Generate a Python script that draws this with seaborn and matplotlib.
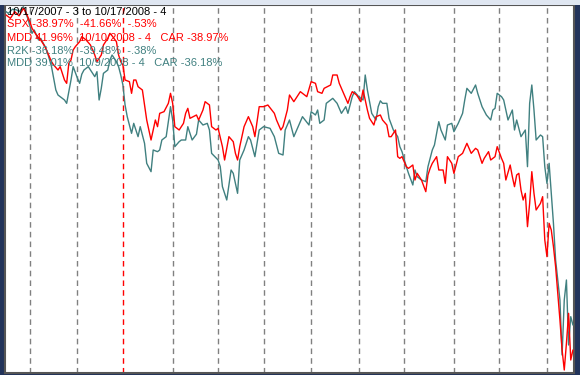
import numpy as np
import pandas as pd
import matplotlib
matplotlib.use('Agg')
import matplotlib.pyplot as plt
import seaborn as sns

# trading days from 10/17/2007 to 10/17/2008
dates = pd.bdate_range('2007-10-17', '2008-10-17')

# percent change (day index, value)
spx_day = [0, 2, 4, 6, 8, 9, 11, 12, 14, 16, 18, 19, 21, 22, 24, 25, 27, 28, 29, 30,
           31, 32, 34, 35, 37, 39, 41, 42, 44, 45, 47, 48, 49, 51, 52, 53, 54, 55, 57, 58,
           59, 60, 61, 63, 65, 66, 67, 69, 70, 71, 73, 75, 76, 77, 78, 80, 82, 83, 84, 85,
           88, 89, 91, 92, 94, 95, 97, 98, 100, 101, 103, 105, 106, 107, 108, 110, 112, 114, 115, 117,
           119, 121, 124, 125, 127, 128, 130, 131, 133, 136, 139, 141, 143, 144, 146, 147, 150, 151, 153, 154,
           156, 158, 159, 160, 162, 164, 165, 167, 168, 170, 171, 173, 174, 176, 177, 178, 180, 181, 182, 183,
           185, 186, 188, 189, 190, 192, 194, 195, 196, 197, 199, 200, 202, 203, 204, 206, 207, 209, 211, 212,
           213, 215, 217, 218, 220, 221, 223, 224, 226, 227, 229, 230, 231, 233, 234, 235, 236, 237, 238, 239,
           240, 241, 242, 243, 244, 245, 247, 248, 249, 250, 251, 252, 253, 254, 255, 256, 257, 258, 259, 260,
           261, 262]
spx_pct = [-0.6, -1.0, -0.2, -0.7, 0.2, -0.2, -1.4, -2.2, -3.0, -3.6, -4.4, -5.0, -6.2, -6.6, -7.2, -6.8, -8.4, -8.8, -6.4, -6.0,
           -4.8, -4.4, -3.8, -3.2, -3.6, -4.2, -5.4, -6.2, -5.4, -4.2, -3.4, -2.8, -3.1, -3.8, -5.4, -6.2, -6.6, -8.4, -8.6, -10.0,
           -8.4, -8.4, -9.2, -9.6, -13.2, -14.4, -15.6, -13.2, -14.0, -12.4, -12.2, -11.2, -10.0, -11.2, -14.0, -14.4, -13.6, -12.4, -11.8, -13.0,
           -12.6, -13.2, -12.0, -11.0, -11.4, -14.0, -14.4, -14.2, -16.4, -18.0, -15.2, -15.8, -17.2, -18.0, -16.4, -14.0, -12.8, -14.0, -15.2, -11.6,
           -11.6, -11.4, -12.4, -13.2, -14.4, -14.0, -12.0, -10.2, -11.0, -9.8, -10.4, -8.6, -8.8, -9.8, -10.0, -9.4, -9.0, -7.8, -7.8, -8.8,
           -10.0, -11.2, -10.4, -9.8, -10.2, -11.0, -9.6, -12.0, -13.0, -13.8, -12.8, -12.6, -13.2, -13.8, -15.2, -15.2, -14.4, -17.6, -17.8, -17.6,
           -18.8, -19.0, -18.6, -20.4, -19.6, -20.4, -21.8, -19.8, -19.0, -18.4, -17.6, -19.2, -19.2, -20.8, -17.6, -18.4, -19.6, -17.6, -17.2, -16.6,
           -16.0, -17.2, -16.6, -16.8, -18.4, -17.8, -17.0, -18.0, -17.6, -16.4, -17.8, -18.4, -20.4, -18.6, -20.0, -21.2, -19.8, -19.6, -21.6, -22.8,
           -22.0, -26.0, -23.2, -19.4, -22.0, -24.0, -23.2, -22.4, -27.6, -29.6, -25.6, -26.4, -28.4, -30.8, -34.0, -37.2, -40.8, -43.2, -40.0, -36.4,
           -42.0, -40.8]

r2k_day = [0, 1, 3, 5, 6, 8, 10, 12, 13, 15, 16, 18, 19, 21, 23, 24, 25, 27, 28, 29,
           30, 31, 33, 34, 35, 36, 38, 41, 42, 43, 44, 45, 47, 48, 49, 51, 52, 53, 54, 55,
           56, 58, 59, 61, 62, 64, 65, 67, 68, 70, 71, 72, 74, 76, 77, 78, 80, 81, 83, 84,
           86, 88, 89, 91, 93, 94, 95, 98, 99, 100, 102, 104, 105, 107, 108, 110, 112, 113, 115, 117,
           119, 122, 124, 126, 128, 129, 131, 133, 135, 137, 140, 141, 143, 144, 145, 147, 148, 151, 153, 155,
           157, 158, 160, 161, 163, 165, 166, 167, 168, 169, 171, 172, 173, 174, 176, 177, 179, 181, 182, 183,
           185, 186, 188, 189, 190, 192, 194, 195, 197, 198, 200, 201, 203, 204, 206, 207, 209, 211, 212, 213,
           215, 217, 218, 220, 222, 224, 225, 226, 227, 229, 230, 232, 234, 235, 236, 238, 240, 241, 242, 243,
           244, 245, 247, 248, 249, 250, 251, 252, 253, 254, 256, 257, 258, 259, 260, 261, 262]
r2k_pct = [-0.2, -0.4, 0.1, 0.0, -0.2, 0.4, -1.0, -2.8, -2.4, -3.6, -3.4, -4.4, -5.0, -6.8, -9.6, -10.2, -10.4, -10.8, -11.2, -9.8,
           -8.4, -6.8, -8.2, -8.8, -7.7, -7.2, -6.8, -8.0, -7.4, -10.8, -9.4, -7.6, -7.2, -6.0, -5.4, -6.2, -6.8, -7.8, -9.0, -11.4,
           -12.8, -14.8, -13.6, -15.2, -14.0, -16.0, -18.4, -19.4, -16.8, -17.0, -16.8, -15.6, -15.2, -11.6, -13.2, -16.4, -15.8, -15.6, -15.6, -14.0,
           -15.6, -14.9, -13.2, -13.8, -13.6, -14.4, -17.2, -18.0, -18.8, -21.2, -22.8, -19.2, -19.6, -22.0, -18.0, -16.8, -15.2, -15.6, -17.6, -14.4,
           -14.0, -14.2, -15.2, -17.2, -17.4, -14.4, -13.2, -15.2, -14.0, -12.8, -13.8, -12.2, -12.6, -12.0, -13.6, -13.2, -11.2, -10.6, -11.2, -12.4,
           -11.6, -12.4, -10.4, -9.8, -10.4, -10.8, -7.8, -9.6, -11.0, -12.4, -13.2, -11.6, -10.9, -11.2, -11.2, -13.0, -14.4, -15.2, -16.4, -17.0,
           -18.8, -19.6, -21.0, -19.2, -20.0, -20.4, -20.6, -18.8, -16.8, -16.2, -13.4, -14.4, -15.6, -13.8, -13.6, -14.6, -13.6, -12.4, -10.8, -9.4,
           -10.0, -9.0, -10.0, -11.6, -12.6, -13.2, -12.0, -11.8, -10.0, -10.4, -10.8, -13.2, -12.0, -14.4, -13.2, -15.2, -14.4, -18.8, -11.2, -9.0,
           -12.0, -15.6, -15.0, -15.2, -18.8, -20.8, -18.4, -22.0, -25.6, -30.0, -34.8, -41.4, -34.8, -32.4, -40.2, -36.8, -37.8]

header = '10/17/2007 - 3 to 10/17/2008 - 4'
spx_lines = ['SPX -38.97%  -41.66%  -.53%', 'MDD 41.96%  10/10/2008 - 4   CAR -38.97%']
r2k_lines = ['R2K -36.18%  -39.48%  -.38%', 'MDD 39.01%  10/9/2008 - 4   CAR -36.18%']

red = '#ff0000'
teal = '#408080'

df = pd.concat([
    pd.DataFrame({'day': spx_day, 'pct': spx_pct, 'index': 'SPX'}),
    pd.DataFrame({'day': r2k_day, 'pct': r2k_pct, 'index': 'R2K'}),
])

sns.set_style('white')
plt.rcParams['font.family'] = ['Liberation Sans', 'DejaVu Sans']

fig = plt.figure(figsize=(5.8, 3.75), dpi=100, facecolor='#22335a')
# light title strip at the top of the window
fig.patches.append(plt.Rectangle((0, 1 - 4.5 / 375), 1, 4.5 / 375, transform=fig.transFigure,
                                 facecolor='#dfe6f1', edgecolor='none'))
ax = fig.add_axes([5 / 580, 2 / 375, 569 / 580, 368 / 375])
ax.set_facecolor('white')

# month separators, red one at the new year
month_start = np.where(dates.month[1:] != dates.month[:-1])[0] + 1
for i in month_start:
    c = red if dates[i].month == 1 else '#808080'
    ax.axvline(i, color=c, lw=1.0, linestyle=(0, (4, 3)), zorder=1)

sns.lineplot(data=df, x='day', y='pct', hue='index', hue_order=['R2K', 'SPX'],
             palette={'SPX': red, 'R2K': teal}, estimator=None, lw=1.0,
             legend=False, ax=ax, zorder=3)

ax.set_xlim(-0.5, len(dates) - 0.5)
ax.set_ylim(-43.56, 0.6)
ax.set_xticks([])
ax.set_yticks([])
ax.set_xlabel('')
ax.set_ylabel('')
for s in ax.spines.values():
    s.set_color('#555555')
    s.set_linewidth(1.5)

tx = 7 / 580
ys = [11.7, 24.3, 37.7, 50.7, 63.3]
texts = [header] + spx_lines + r2k_lines
colors = ['black', red, red, teal, teal]
for t, yc, c in zip(texts, ys, colors):
    fig.text(tx, 1 - yc / 375, t, color=c, fontsize=8, va='center', ha='left', zorder=5)

fig.savefig('out.png', dpi=100, facecolor=fig.get_facecolor())
